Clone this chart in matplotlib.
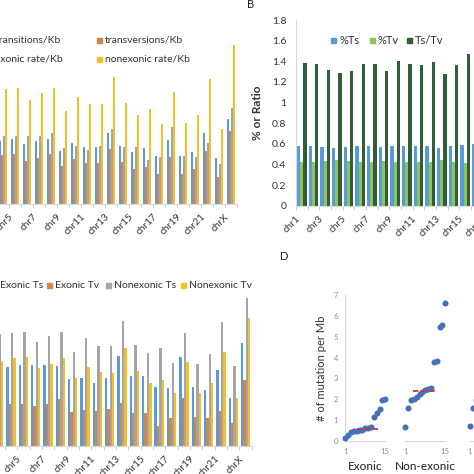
import numpy as np
import matplotlib
matplotlib.use("Agg")
import matplotlib.pyplot as plt
from matplotlib.patches import Rectangle
from matplotlib.ticker import FuncFormatter

plt.rcParams["font.family"] = ["Lato", "DejaVu Sans"]

# ---------------------------------------------------------------
# data
# ---------------------------------------------------------------
chroms = [f"chr{i}" for i in range(1, 23)] + ["chrX"]

# panel A: rates per Kb
transitions_kb = [0.66, 0.62, 0.64, 0.63, 0.65, 0.60, 0.63, 0.65, 0.53, 0.61, 0.57, 0.57,
                  0.71, 0.58, 0.52, 0.56, 0.48, 0.64, 0.48, 0.52, 0.71, 0.46, 0.85]
transversions_kb = [0.49, 0.45, 0.47, 0.49, 0.50, 0.43, 0.46, 0.50, 0.38, 0.45, 0.41, 0.41,
                    0.55, 0.42, 0.35, 0.37, 0.30, 0.47, 0.30, 0.35, 0.53, 0.27, 0.73]
exonic_kb = [0.70, 0.66, 0.68, 0.68, 0.68, 0.68, 0.68, 0.71, 0.56, 0.58, 0.54, 0.58,
             0.75, 0.57, 0.57, 0.44, 0.47, 0.77, 0.48, 0.47, 0.61, 0.40, 0.96]
nonexonic_kb = [1.18, 1.10, 1.14, 1.15, 1.16, 1.04, 1.11, 1.16, 0.93, 1.07, 1.00, 1.00,
                1.27, 1.01, 0.89, 0.95, 0.80, 1.12, 0.81, 0.89, 1.25, 0.75, 1.59]

# panel B: fractions and ratio
pct_ts = [0.58, 0.58, 0.57, 0.56, 0.57, 0.58, 0.58, 0.57, 0.58, 0.58, 0.58, 0.58,
          0.56, 0.58, 0.59, 0.60, 0.57, 0.57, 0.58, 0.57, 0.58, 0.58, 0.59]
pct_tv = [0.42, 0.42, 0.43, 0.44, 0.43, 0.42, 0.42, 0.43, 0.42, 0.42, 0.42, 0.42,
          0.44, 0.42, 0.41, 0.40, 0.43, 0.43, 0.42, 0.43, 0.42, 0.42, 0.41]
ts_tv = [1.38, 1.37, 1.32, 1.29, 1.31, 1.37, 1.37, 1.31, 1.40, 1.37, 1.36, 1.39,
         1.28, 1.36, 1.47, 1.37, 1.35, 1.33, 1.36, 1.34, 1.38, 1.40, 1.45]

# panel C: exonic / nonexonic Ts and Tv
exonic_ts = [0.82, 0.78, 0.80, 0.79, 0.81, 0.81, 0.81, 0.80, 0.67, 0.68, 0.63, 0.68,
             0.90, 0.70, 0.70, 0.59, 0.58, 0.89, 0.59, 0.56, 0.76, 0.48, 1.03]
exonic_tv = [0.43, 0.40, 0.42, 0.42, 0.42, 0.40, 0.42, 0.47, 0.34, 0.36, 0.35, 0.37,
             0.43, 0.33, 0.33, 0.20, 0.28, 0.48, 0.29, 0.28, 0.35, 0.23, 0.66]
nonexonic_ts = [1.16, 1.08, 1.12, 1.13, 1.14, 1.04, 1.10, 1.14, 0.94, 1.08, 1.00, 1.00,
                1.25, 1.01, 0.93, 0.98, 0.83, 1.13, 0.82, 0.92, 1.24, 0.80, 1.48]
nonexonic_tv = [0.90, 0.84, 0.85, 0.88, 0.89, 0.78, 0.82, 0.88, 0.68, 0.79, 0.74, 0.73,
                0.98, 0.75, 0.63, 0.66, 0.53, 0.84, 0.53, 0.63, 0.94, 0.48, 1.28]

# panel D: mutations per Mb, samples sorted
sample_idx = list(range(1, 16))
exonic_mb = [0.13, 0.27, 0.42, 0.48, 0.50, 0.52, 0.55, 0.60, 0.63, 0.68,
             1.15, 1.32, 1.52, 1.98, 2.02]
nonexonic_mb = [0.69, 1.60, 1.97, 2.00, 2.13, 2.25, 2.37, 2.45, 2.48, 2.56,
                3.77, 3.85, 5.48, 5.56, 6.63]
total_mb = [0.70, 1.58, 1.95, 2.00, 2.10, 2.22, 2.33, 2.40, 2.45, 2.52,
            3.60, 3.70, 5.20, 5.30, 6.30]
median_mb = [0.59, 2.41]

# ---------------------------------------------------------------
W = H = 474
fig = plt.figure(figsize=(W / 100, H / 100), dpi=100)
fig.patch.set_facecolor("white")

BLUE = "#5B9BD5"
ORANGE = "#D0864C"
GRAY = "#A5A5A5"
YELLOW = "#F4BE2F"
LGREEN = "#8CC35A"
DGREEN = "#2F5E38"
DOT = "#4472B8"
RED = "#C8334F"
AXC = "#D9D9D9"


def add_ax(x0, y0, x1, y1):
    return fig.add_axes([x0 / W, 1 - y1 / H, (x1 - x0) / W, (y1 - y0) / H])


def legend_row(y, entries, size=7.5):
    for xm, color, label in entries:
        fig.patches.append(Rectangle((xm / W, 1 - (y + 2.5) / H), 5 / W, 5 / H,
                                     transform=fig.transFigure, color=color))
        fig.text((xm + 8) / W, 1 - y / H, label, ha="left", va="center",
                 fontsize=size, color="#333333")


def chrom_axis(ax):
    n = len(chroms)
    ax.set_xlim(-0.5, n - 0.5)
    for s in ["top", "right", "left"]:
        ax.spines[s].set_visible(False)
    ax.spines["bottom"].set_color(AXC)
    ax.set_xticks(np.arange(0, n, 2))
    ax.set_xticklabels(chroms[::2], rotation=45, ha="right", fontsize=7.2, color="#333333")
    ax.set_xticks(np.arange(-0.5, n, 1), minor=True)
    ax.tick_params(axis="x", which="major", length=0, pad=6)
    ax.tick_params(axis="x", which="minor", length=3, color="#C9C9C9")
    ax.set_facecolor("none")


def grouped_bars(ax, series, colors, w):
    x = np.arange(len(chroms))
    k = len(series)
    for j, (vals, c) in enumerate(zip(series, colors)):
        ax.bar(x + (j - (k - 1) / 2) * w, vals, width=w, color=c, linewidth=0)


# ---------------------------------------------------------------
# A
axA = add_ax(-39, 30, 237, 204)
grouped_bars(axA, [transitions_kb, transversions_kb, exonic_kb, nonexonic_kb],
             [BLUE, ORANGE, GRAY, YELLOW], 0.18)
chrom_axis(axA)
axA.set_ylim(0, 1.74)
axA.set_yticks([])
legend_row(40, [(-12, BLUE, "transitions/Kb"), (97, ORANGE, "transversions/Kb")])
legend_row(59, [(-13, GRAY, "exonic rate/Kb"), (97, YELLOW, "nonexonic rate/Kb")])

# B
axB = add_ax(296, 20, 296 + 23 * 11.67, 205.7)
grouped_bars(axB, [pct_ts, pct_tv, ts_tv], [BLUE, LGREEN, DGREEN], 0.27)
chrom_axis(axB)
axB.spines["left"].set_visible(True)
axB.spines["left"].set_color(AXC)
axB.set_ylim(0, 1.8)
axB.set_yticks(np.arange(0, 1.81, 0.2))
axB.yaxis.set_major_formatter(FuncFormatter(lambda v, p: f"{v:.1f}".rstrip("0").rstrip(".")))
axB.tick_params(axis="y", length=0, pad=7, labelsize=7.5, labelcolor="#333333")
axB.set_ylabel("% or Ratio", fontsize=8.5, fontweight="bold", color="#333333", labelpad=6)
legend_row(40, [(331, BLUE, "%Ts"), (370, LGREEN, "%Tv"), (407, DGREEN, "Ts/Tv")], size=8)
fig.text(247 / W, 1 - 5 / H, "B", fontsize=8, ha="left", va="center", color="#202020")

# C
axC = add_ax(-32.2, 270, 251.8, 446)
grouped_bars(axC, [exonic_ts, exonic_tv, nonexonic_ts, nonexonic_tv],
             [BLUE, ORANGE, GRAY, YELLOW], 0.19)
chrom_axis(axC)
axC.set_ylim(0, 1.76)
axC.set_yticks([])
legend_row(285, [(-8, BLUE, "Exonic Ts"), (47, ORANGE, "Exonic Tv"),
                 (106, GRAY, "Nonexonic Ts"), (181, YELLOW, "Nonexonic Tv")])

# D
fig.text(280 / W, 1 - 257 / H, "D", fontsize=8, ha="left", va="center", color="#202020")
d_groups = [("Exonic", exonic_mb, 345.3), ("Non-exonic", nonexonic_mb, 405.3), ("", total_mb, 470)]
for gi, (name, vals, x0) in enumerate(d_groups):
    ax = add_ax(x0, 295, x0 + 40, 441)
    ax.scatter(sample_idx, vals, s=19, color=DOT, zorder=3, clip_on=False, linewidths=0)
    if gi < len(median_mb):
        lo, hi = [(5.2, 12.5), (3.85, 11.3)][gi]
        ax.plot([lo, hi], [median_mb[gi]] * 2, color=RED, lw=1.3, ls=(0, (3, 1.5)), zorder=4)
    ax.set_xlim(1, 15)
    ax.set_ylim(0, 7)
    for s in ["top", "right"]:
        ax.spines[s].set_visible(False)
    ax.spines["bottom"].set_color(AXC)
    ax.spines["left"].set_color(AXC)
    ax.spines["left"].set_visible(gi == 0)
    ax.set_xticks([1, 15])
    ax.tick_params(axis="both", length=0, labelsize=5.5, labelcolor="#8C8C8C", pad=5)
    if gi == 0:
        ax.set_yticks(range(0, 8))
        ax.set_ylabel("# of mutation per Mb", fontsize=8, color="#333333", labelpad=5)
    else:
        ax.set_yticks([])
    ax.set_xlabel(name, fontsize=8.5, color="#202020", labelpad=4)
    ax.set_facecolor("none")

fig.savefig("out.png", dpi=100)
